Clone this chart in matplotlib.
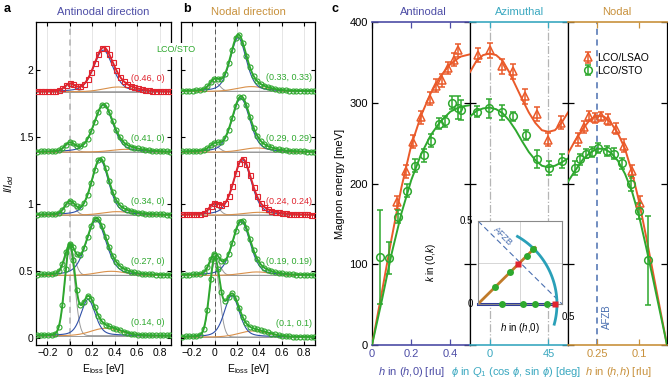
import numpy as np
import matplotlib
matplotlib.use('Agg')
import matplotlib.pyplot as plt

plt.rcParams['font.family'] = ['Liberation Sans', 'DejaVu Sans']
plt.rcParams['mathtext.fontset'] = 'custom'
plt.rcParams['mathtext.rm'] = 'Liberation Sans'
plt.rcParams['mathtext.it'] = 'Liberation Sans:italic'
plt.rcParams['mathtext.fallback'] = 'stixsans'
plt.rcParams['xtick.direction'] = 'in'
plt.rcParams['ytick.direction'] = 'in'
plt.rcParams['axes.linewidth'] = 0.9

# ---- panel a / b : RIXS spectra (fit parameters) ----
a_labels = ['(0.14, 0)', '(0.27, 0)', '(0.34, 0)', '(0.41, 0)', '(0.46, 0)']
a_q = [0.14, 0.27, 0.34, 0.41, 0.46]
a_offset = [0.02, 0.47, 0.92, 1.39, 1.84]
a_elastic = [0.65, 0.20, 0.09, 0.06, 0.05]
a_mag_pos = [0.163, 0.235, 0.27, 0.30, 0.298]
a_mag_amp = [0.27, 0.41, 0.41, 0.35, 0.31]
a_mag_fwhm = [0.15, 0.21, 0.18, 0.20, 0.20]
a_bro_pos = [0.32, 0.37, 0.42, 0.50, 0.43]
a_bro_amp = [0.055, 0.03, 0.025, 0.02, 0.035]
a_red = [False, False, False, False, True]

b_labels = ['(0.1, 0.1)', '(0.19, 0.19)', '(0.24, 0.24)', '(0.29, 0.29)', '(0.33, 0.33)']
b_q = [0.1, 0.19, 0.24, 0.29, 0.33]
b_offset = [0.01, 0.47, 0.92, 1.39, 1.843]
b_elastic = [0.55, 0.14, 0.07, 0.045, 0.07]
b_mag_pos = [0.155, 0.24, 0.25, 0.236, 0.212]
b_mag_amp = [0.31, 0.40, 0.41, 0.40, 0.40]
b_mag_fwhm = [0.16, 0.19, 0.19, 0.19, 0.17]
b_bro_pos = [0.35, 0.38, 0.40, 0.38, 0.33]
b_bro_amp = [0.045, 0.025, 0.02, 0.03, 0.035]
b_red = [False, False, True, False, False]

e_meas = np.arange(-0.29, 0.9, 0.032)
e_fine = np.linspace(-0.3, 0.9, 400)

# ---- panel c : magnon dispersion ----
anti_lsao_h = [0.128, 0.171, 0.209, 0.252, 0.294, 0.327, 0.356, 0.39, 0.417, 0.44]
anti_lsao_E = [177, 215, 252, 282, 305, 321, 328, 343, 353, 365]
anti_lsao_err = [8, 8, 8, 8, 8, 8, 8, 8, 8, 8]
anti_sto_h = [0.04, 0.088, 0.133, 0.179, 0.221, 0.263, 0.302, 0.341, 0.375, 0.407, 0.437, 0.454]
anti_sto_E = [109, 108, 159, 191, 222, 235, 253, 274, 277, 300, 294, 291]
anti_sto_err = [58, 20, 8, 8, 8, 8, 8, 7, 7, 8, 14, 12]

azi_lsao_phi = [-9.1, 0.25, 9.2, 18, 27, 36.3, 45, 54.4]
azi_lsao_E = [359, 365, 345, 339, 308, 286, 254, 275]
azi_lsao_err = [9, 9, 9, 9, 9, 9, 8, 8]
azi_sto_phi = [-9.9, -0.3, 9.2, 18, 27.5, 36.3, 45.3, 55.4]
azi_sto_E = [289, 293, 288, 283, 260, 230, 219, 228]
azi_sto_err = [7, 12, 9, 6, 6, 11, 9, 9]

nod_lsao_h = [0.317, 0.297, 0.278, 0.257, 0.237, 0.212, 0.183, 0.154, 0.126, 0.097]
nod_lsao_E = [255, 270, 284, 281, 283, 279, 268, 247, 215, 176]
nod_lsao_err = [8, 8, 6, 6, 6, 7, 7, 8, 8, 8]
nod_sto_h = [0.329, 0.311, 0.290, 0.269, 0.246, 0.216, 0.190, 0.160, 0.130, 0.100, 0.067]
nod_sto_E = [219, 230, 237, 239, 244, 240, 237, 225, 200, 166, 105]
nod_sto_err = [9, 7, 6, 6, 6, 6, 7, 7, 9, 10, 55]

# fit curves
fit_anti_h = [0, 0.05, 0.1, 0.15, 0.2, 0.25, 0.3, 0.35, 0.4, 0.45, 0.5]
fit_anti_lsao = [0, 65, 132, 195, 247, 284, 312, 333, 348, 357, 360]
fit_anti_sto = [0, 55, 113, 163, 204, 236, 260, 277, 289, 295, 297]
fit_azi_phi = [-15, -10, -5, 0, 5, 10, 15, 20, 25, 30, 35, 40, 45, 50, 55, 60]
fit_azi_lsao = [338, 352, 359, 361, 359, 352, 338, 321, 304, 288, 275, 266, 264, 266, 275, 288]
fit_azi_sto = [283, 290, 293, 294, 292, 287, 278, 266, 252, 239, 229, 222, 220, 222, 226, 231]
fit_nod_h = [0.354, 0.33, 0.3, 0.275, 0.25, 0.225, 0.2, 0.175, 0.15, 0.125, 0.1, 0.075, 0.05, 0.025, 0]
fit_nod_lsao = [237, 252, 268, 279, 284, 283, 275, 262, 243, 214, 178, 135, 90, 45, 0]
fit_nod_sto = [202, 215, 230, 238, 243, 243, 238, 228, 212, 190, 160, 122, 82, 41, 0]

GREEN = '#2ea82e'
RED = '#e0242e'
ORANGE = '#ea5a2a'
BLUE = '#3050a8'
BROWN = '#d9904a'
GRAY = '#9a9a9a'
PURPLE = '#4d4da6'
CYAN = '#3aa8c0'
TAN = '#c8913c'
AFZB = '#4a6fb0'

W, H = 668, 378
fig = plt.figure(figsize=(W / 100, H / 100), dpi=100)


def add_px(x0, y0, x1, y1):
    return fig.add_axes([x0 / W, 1 - y1 / H, (x1 - x0) / W, (y1 - y0) / H])


def ftext(x, y, s, **kw):
    fig.text(x / W, 1 - y / H, s, **kw)


def gauss(x, c, amp, fwhm):
    s = fwhm / 2.3548
    return amp * np.exp(-0.5 * ((x - c) / s) ** 2)


def magnon(x, c, amp, fwhm):
    lor = 1.0 / (1 + ((x - c) / (fwhm / 2)) ** 2)
    return amp * (0.65 * gauss(x, c, 1, fwhm) + 0.35 * lor)


def spectra_panel(ax, labels, offs, el, mp, ma, mw, bp, ba, red, lab_x, zero_style):
    ax.set_xlim(-0.3, 0.9)
    ax.set_ylim(-0.05, 2.36)
    for t in [-0.2, 0, 0.2, 0.4, 0.6, 0.8]:
        ax.axvline(t, color='#e2e2e2', lw=0.6, zorder=0)
    ax.axvline(0, **zero_style)
    for i in range(len(labels)):
        col = RED if red[i] else GREEN
        off = offs[i]
        def total(e):
            return (off + gauss(e, 0, el[i], 0.105) + magnon(e, mp[i], ma[i], mw[i])
                    + gauss(e, bp[i], ba[i], 0.3))
        ax.axhline(off, color=GRAY, lw=0.7, zorder=1)
        ax.plot(e_fine, off + gauss(e_fine, 0, el[i], 0.105), color=GRAY, lw=0.7, zorder=2)
        ax.plot(e_fine, off + gauss(e_fine, bp[i], ba[i], 0.3), color=BROWN, lw=0.8, zorder=2)
        ax.plot(e_fine, off + magnon(e_fine, mp[i], ma[i], mw[i]), color=BLUE, lw=0.8, zorder=2)
        ax.plot(e_fine, total(e_fine), color=col, lw=1.4, zorder=3)
        ax.plot(e_meas, total(e_meas), ls='none', marker='s' if red[i] else 'o',
                ms=3.6, mfc='none', mec=col, mew=0.8, zorder=4)
        ax.text(lab_x, off + 0.1, labels[i], color=col, fontsize=6.5, ha='right', va='center')
    ax.set_xticks([-0.2, 0, 0.2, 0.4, 0.6, 0.8])
    ax.set_xticklabels(['\u22120.2', '0', '0.2', '0.4', '0.6', '0.8'])
    ax.set_yticks([0, 0.5, 1, 1.5, 2])
    ax.set_yticklabels(['0', '0.5', '1', '1.5', '2'])
    ax.tick_params(top=True, right=True, labelsize=7.5, length=3, width=0.8, pad=2)
    ax.set_xlabel('E$_{\\rm loss}$ [eV]', fontsize=7.5, labelpad=3)


ax_a = add_px(36, 22, 171, 345)
spectra_panel(ax_a, a_labels, a_offset, a_elastic, a_mag_pos, a_mag_amp, a_mag_fwhm,
              a_bro_pos, a_bro_amp, a_red, 0.84,
              dict(color='#b0b0b0', lw=1.1, ls=(0, (4, 3)), zorder=1))
ax_a.set_ylabel('$I/I_{dd}$', fontsize=7.5, labelpad=2)

ax_b = add_px(181, 22, 315, 345)
spectra_panel(ax_b, b_labels, b_offset, b_elastic, b_mag_pos, b_mag_amp, b_mag_fwhm,
              b_bro_pos, b_bro_amp, b_red, 0.875,
              dict(color='#555555', lw=0.7, ls=(0, (5, 3)), zorder=1))
ax_b.tick_params(labelleft=False)

ftext(103, 12, 'Antinodal direction', color=PURPLE, fontsize=8, ha='center', va='center')
ftext(248, 12, 'Nodal direction', color=TAN, fontsize=8, ha='center', va='center')
ftext(4, 9, 'a', fontsize=9, fontweight='bold', va='center')
ftext(183, 9, 'b', fontsize=9, fontweight='bold', va='center')
ftext(331, 9, 'c', fontsize=9, fontweight='bold', va='center')
ftext(176, 50, 'LCO/STO', color=GREEN, fontsize=6.5, ha='center', va='center',
      bbox=dict(fc='white', ec='none', pad=1.5), zorder=10)

# ---- panel c ----
ax_an = add_px(372, 22, 470, 345)
ax_az = add_px(470, 22, 568, 345)
ax_no = add_px(568, 22, 667, 345)

eb_lsao = dict(fmt='^', mfc='none', mec=ORANGE, ecolor=ORANGE, ms=5.5, mew=1.1,
               capsize=2.5, elinewidth=1.1, capthick=1.1, zorder=4)
eb_sto = dict(fmt='o', mfc='none', mec=GREEN, ecolor=GREEN, ms=5.5, mew=1.1,
              capsize=2.5, elinewidth=1.1, capthick=1.1, zorder=4)

ax_an.plot(fit_anti_h, fit_anti_lsao, color=ORANGE, lw=1.4, zorder=3)
ax_an.plot(fit_anti_h, fit_anti_sto, color=GREEN, lw=1.4, zorder=3)
ax_an.errorbar(anti_lsao_h, anti_lsao_E, yerr=anti_lsao_err, **eb_lsao)
ax_an.errorbar(anti_sto_h, anti_sto_E, yerr=anti_sto_err, **eb_sto)
ax_an.set_xlim(0, 0.5)
ax_an.set_xticks([0, 0.2, 0.4])
ax_an.set_xticklabels(['0', '0.2', '0.4'])

for p in [0, 45]:
    ax_az.axvline(p, color='#b5b5b5', lw=0.9, ls='-.', zorder=1)
ax_az.plot(fit_azi_phi, fit_azi_lsao, color=ORANGE, lw=1.4, zorder=3)
ax_az.plot(fit_azi_phi, fit_azi_sto, color=GREEN, lw=1.4, zorder=3)
ax_az.errorbar(azi_lsao_phi, azi_lsao_E, yerr=azi_lsao_err, **eb_lsao)
ax_az.errorbar(azi_sto_phi, azi_sto_E, yerr=azi_sto_err, **eb_sto)
ax_az.set_xlim(-15, 60)
ax_az.set_xticks([0, 45])
ax_az.set_xticklabels(['0', '45'])

ax_no.axvline(0.25, color=AFZB, lw=1.1, ls=(0, (4, 3)), zorder=1)
ax_no.plot(fit_nod_h, fit_nod_lsao, color=ORANGE, lw=1.4, zorder=3)
ax_no.plot(fit_nod_h, fit_nod_sto, color=GREEN, lw=1.4, zorder=3)
ax_no.errorbar(nod_lsao_h, nod_lsao_E, yerr=nod_lsao_err, label='LCO/LSAO', **eb_lsao)
ax_no.errorbar(nod_sto_h, nod_sto_E, yerr=nod_sto_err, label='LCO/STO', **eb_sto)
ax_no.set_xlim(0.5 / np.sqrt(2), 0)
ax_no.set_xticks([0.25, 0.1])
ax_no.set_xticklabels(['0.25', '0.1'])
ax_no.text(0.214, 35, 'AFZB', color=AFZB, fontsize=7, rotation=90, ha='center', va='center')
ax_no.legend(loc='upper left', bbox_to_anchor=(0.1, 0.92), frameon=False, fontsize=7.5,
             handlelength=0.9, handletextpad=0.4, borderpad=0, labelspacing=0.25)

for ax, col, title, xc in [(ax_an, PURPLE, 'Antinodal', 423), (ax_az, CYAN, 'Azimuthal', 520),
                           (ax_no, TAN, 'Nodal', 617)]:
    ax.set_ylim(0, 400)
    ax.set_yticks([0, 100, 200, 300, 400])
    ax.tick_params(axis='y', left=True, right=True, labelleft=False, length=4, width=0.9)
    ax.tick_params(axis='x', top=True, bottom=True, colors=col, labelsize=8, length=4,
                   width=0.9, pad=3)
    ax.spines['top'].set_color(col)
    ax.spines['bottom'].set_color(col)
    ax.spines['top'].set_linewidth(1.2)
    ax.spines['bottom'].set_linewidth(1.2)
    ftext(xc, 12, title, color=col, fontsize=8, ha='center', va='center')
ax_an.tick_params(axis='y', labelleft=True, labelsize=8, pad=3)
ax_an.set_ylabel('Magnon energy [meV]', fontsize=8, labelpad=3)

ftext(411, 372, '$h$ in ($h$,0) [rlu]', color=PURPLE, fontsize=8, ha='center', va='center')
ftext(516, 372, '$\\phi$ in $Q_1$ (cos $\\phi$, sin $\\phi$) [deg]', color=CYAN, fontsize=8,
      ha='center', va='center')
ftext(618, 372, '$h$ in ($h$,$h$) [rlu]', color=TAN, fontsize=8, ha='center', va='center')

# ---- inset : momentum space path ----
ax_in = add_px(478, 221, 562, 304)
ax_in.set_xlim(0, 0.5)
ax_in.set_ylim(0, 0.5)
ax_in.set_xticks([])
ax_in.set_yticks([])
for s in ax_in.spines.values():
    s.set_color('#8a8a8a')
    s.set_linewidth(0.8)
ax_in.axvline(0.25, color='#d0d0d0', lw=0.6, zorder=0)
ax_in.axhline(0.25, color='#d0d0d0', lw=0.6, zorder=0)
ax_in.plot([0, 0.5], [0.5, 0], color=AFZB, lw=0.8, ls=(0, (5, 3)), zorder=1)
ax_in.text(0.15, 0.41, 'AFZB', color=AFZB, fontsize=6.5, rotation=-45, ha='center',
           va='center')
ang = np.radians(np.linspace(-15, 60, 60))
ax_in.plot(0.47 * np.cos(ang), 0.47 * np.sin(ang), color='#2aa0b8', lw=2, clip_on=False,
           zorder=2)
ax_in.plot([0, a_q[-1]], [0, 0], color='#2b3a9a', lw=2.2, clip_on=False, zorder=2)
ax_in.plot([0, b_q[-1] + 0.01], [0, b_q[-1] + 0.01], color='#c07a2a', lw=2, zorder=2)
for i, q in enumerate(a_q):
    c = RED if a_red[i] else GREEN
    ax_in.plot(q, 0, marker='s' if a_red[i] else 'o', ms=5, color=c, mec='none',
               clip_on=False, zorder=3)
for i, q in enumerate(b_q):
    c = RED if b_red[i] else GREEN
    ax_in.plot(q, q, marker='s' if b_red[i] else 'o', ms=5, color=c, mec='none',
               clip_on=False, zorder=3)
ax_in.text(-0.03, 0.5, '0.5', fontsize=7, ha='right', va='center')
ax_in.text(-0.03, 0, '0', fontsize=7, ha='right', va='center')
ax_in.text(0.5, -0.05, '0.5', fontsize=7, ha='left', va='top')
ax_in.text(0.25, -0.1, '$h$ in ($h$,0)', fontsize=7, ha='center', va='top')
ax_in.text(-0.28, 0.25, '$k$ in (0,$k$)', fontsize=7, ha='center', va='center', rotation=90)

plt.savefig('out.png', dpi=100)
